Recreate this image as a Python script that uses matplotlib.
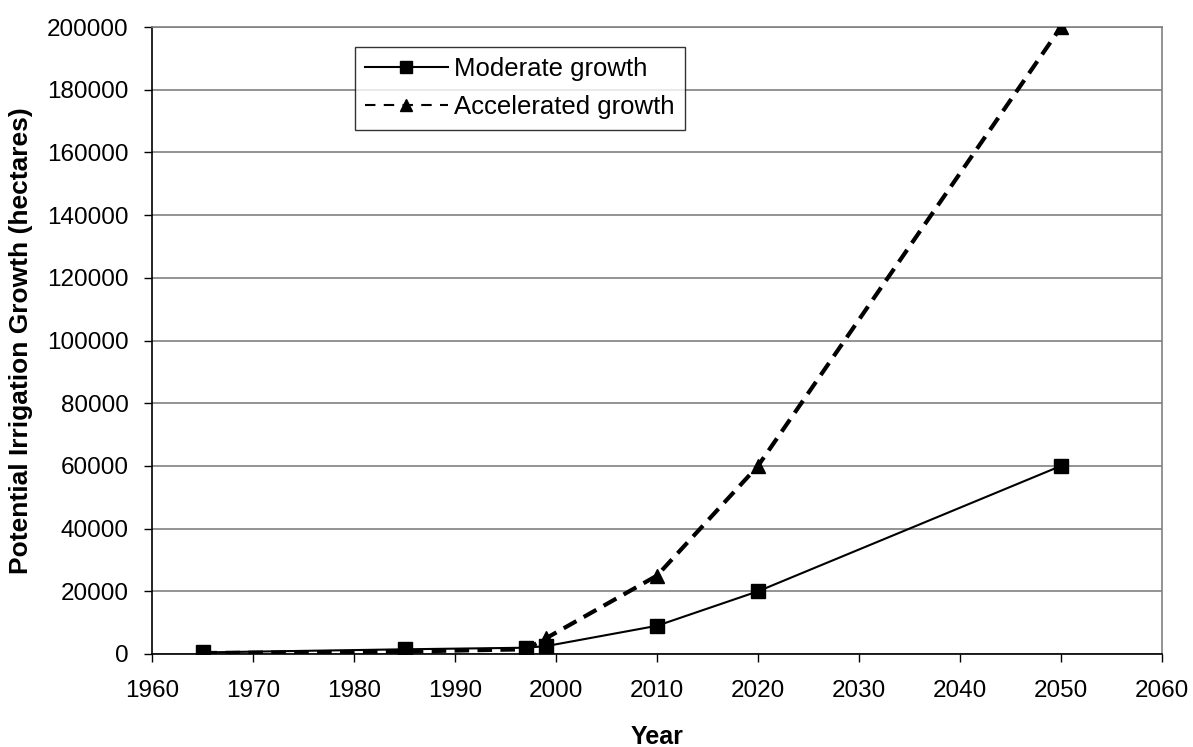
import matplotlib
matplotlib.use("Agg")
import matplotlib.pyplot as plt

plt.rcParams['font.family'] = ['Liberation Sans', 'DejaVu Sans']

years = [1965, 1985, 1997, 1999, 2010, 2020, 2050]
moderate = [500, 1500, 2000, 2500, 9000, 20000, 60000]
accelerated = [300, 800, 1500, 5000, 25000, 60000, 200000]

x_ticks = list(range(1960, 2061, 10))
y_ticks = list(range(0, 200001, 20000))

W, H = 1193, 747
fig = plt.figure(figsize=(W / 100, H / 100), dpi=100)
ax = fig.add_axes([152 / W, 1 - 654 / H, (1162 - 152) / W, (654 - 27) / H])

ax.plot(years, accelerated, color='black', linestyle=(0, (3.5, 2)), linewidth=3,
        marker='^', markersize=10, label='Accelerated growth', zorder=3)
ax.plot(years, moderate, color='black', linestyle='-', linewidth=1.5,
        marker='s', markersize=9.5, label='Moderate growth', zorder=4)

ax.set_xlim(1960, 2060)
ax.set_ylim(0, 200000)
ax.set_xticks(x_ticks)
ax.set_yticks(y_ticks)
ax.tick_params(axis='both', labelsize=17.5, direction='out', length=6, width=1)
ax.tick_params(axis='x', pad=13)
ax.tick_params(axis='y', pad=11)
ax.yaxis.grid(True, color='#808080', linewidth=1.2)
ax.set_axisbelow(True)

for side in ('top', 'right'):
    ax.spines[side].set_color('#808080')
    ax.spines[side].set_linewidth(1.2)
for side in ('left', 'bottom'):
    ax.spines[side].set_linewidth(1.2)

ax.set_xlabel('Year', fontsize=18, fontweight='bold', labelpad=16.5)
ax.set_ylabel('Potential Irrigation Growth (hectares)', fontsize=19,
              fontweight='bold', labelpad=10)

handles, labels = ax.get_legend_handles_labels()
leg = ax.legend(handles[::-1], labels[::-1], loc='upper left',
                bbox_to_anchor=(355 / W, 1 - 47 / H), bbox_transform=fig.transFigure,
                fontsize=18.5, frameon=True, fancybox=False, edgecolor='black',
                handlelength=3.2, borderpad=0.4, labelspacing=0.55,
                handletextpad=0.27, borderaxespad=0)
leg.get_frame().set_linewidth(1)
for h in leg.legend_handles:
    h.set_linewidth(1.5)
    h.set_markersize(8.5)
leg.legend_handles[1].set_linestyle((0, (5, 4)))

fig.savefig('out.png', dpi=100, facecolor='white')
